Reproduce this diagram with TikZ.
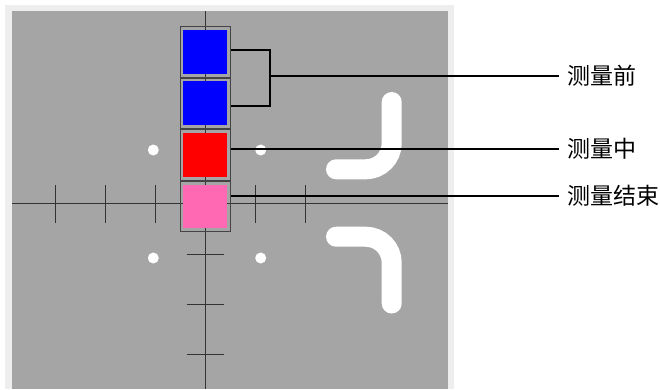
\documentclass[tikz,border=0pt]{standalone}
\usepackage{fontspec}
\newfontfamily\cjk{Noto Sans CJK SC}
\usetikzlibrary{positioning,calc}
\definecolor{fieldgray}{HTML}{A5A5A5}
\definecolor{rimgray}{HTML}{EEEEEE}
\definecolor{axisgray}{HTML}{333333}
\definecolor{framegray}{HTML}{444444}
\definecolor{endpink}{HTML}{FF69B4}
\tikzset{
  axis line/.style={axisgray,line width=1pt},
  tick line/.style={axisgray,line width=1pt},
  cell frame/.style={draw=framegray,line width=1pt,minimum width=50pt,minimum height=50.6pt,inner sep=0pt},
  cell fill/.style={minimum width=44pt,minimum height=43.7pt,inner sep=0pt},
  mark dot/.style={circle,fill=white,minimum size=11pt,inner sep=0pt},
  lane mark/.style={white,line width=20pt,line cap=round,rounded corners=26pt},
  label line/.style={black,line width=2pt},
  bracket line/.style={black,line width=1.4pt},
  stage label/.style={anchor=west,inner xsep=8pt,inner ysep=0pt,font=\cjk\fontsize{23}{27}\selectfont},
}
\begin{document}
\begin{tikzpicture}[x=1pt,y=-1pt]
  \useasboundingbox (0,0) rectangle (660,389);
  % field
  \fill[rimgray] (5,5) rectangle (454,389);
  \fill[fieldgray] (12,11) rectangle (448,389);
  % axes and ticks
  \draw[axis line] (12,203.3) -- (448,203.3);
  \draw[axis line] (205.3,11) -- (205.3,389);
  \foreach \x in {55,105,155,255,305}
    \draw[tick line] (\x,185) -- (\x,222.5);
  \foreach \y in {254,304,354}
    \draw[tick line] (187,\y) -- (224,\y);
  % dots
  \node[mark dot] (d1) at (153.3,150) {};
  \node[mark dot] (d2) at (260.7,150) {};
  \node[mark dot] (d3) at (153.3,258) {};
  \node[mark dot] (d4) at (260.7,258) {};
  % lane marks
  \draw[lane mark] (391.7,102) -- (391.7,169.3) -- (336,169.3);
  \draw[lane mark] (336,236.7) -- (391.7,236.7) -- (391.7,303.5);
  % cells
  \node[cell frame] (c1) at (205.3,51.7) {};
  \node[cell frame,below=0pt of c1] (c2) {};
  \node[cell frame,below=0pt of c2] (c3) {};
  \node[cell frame,below=0pt of c3] (c4) {};
  \node[cell fill,fill=blue] (f1) at (c1) {};
  \node[cell fill,fill=blue] (f2) at (c2) {};
  \node[cell fill,fill=red] (f3) at (c3) {};
  \node[cell fill,fill=endpink] (f4) at (c4) {};
  % labels
  \node[stage label] (l1) at (559,76) {测量前};
  \node[stage label] (l2) at (559,148.5) {测量中};
  \node[stage label] (l3) at (559,196) {测量结束};
  \coordinate (b1) at ($(c1.east)+(39,-1.7)$);
  \coordinate (b2) at (b1 |- l1.west);
  \draw[bracket line] ($(c1.east)+(0,-1.7)$) -- (b1) |- ($(c2.east)+(0,2.5)$);
  \draw[label line] (b2) -- (l1.west);
  \draw[label line] (l2.west -| c3.east) -- (l2.west);
  \draw[label line] (l3.west -| c4.east) -- (l3.west);
\end{tikzpicture}
\end{document}
